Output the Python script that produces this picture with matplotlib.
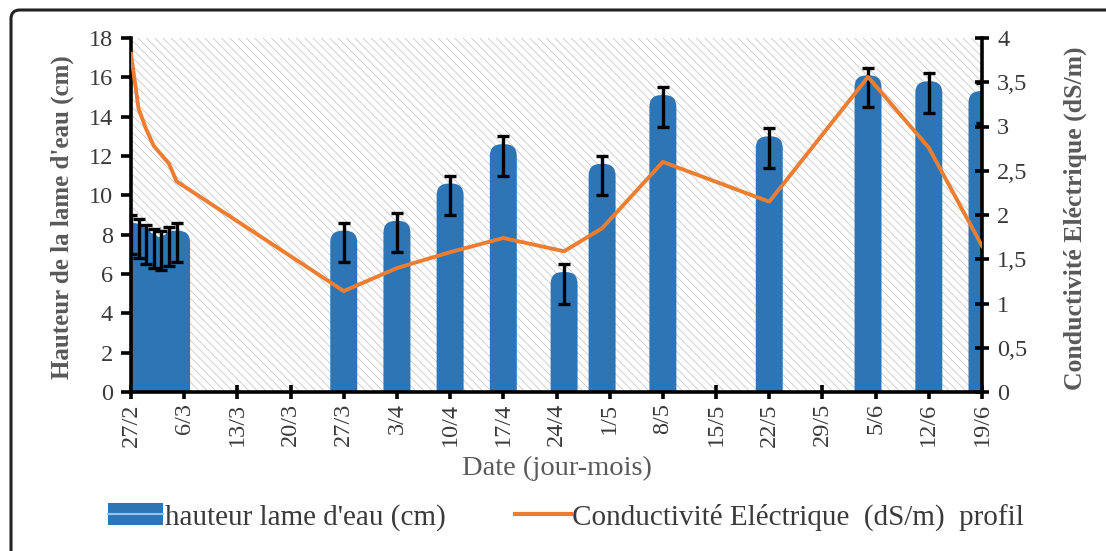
import numpy as np
import matplotlib
matplotlib.use('Agg')
from matplotlib import pyplot as plt
from matplotlib.patches import FancyBboxPatch, Rectangle, Patch
from matplotlib.lines import Line2D
from matplotlib.legend_handler import HandlerTuple

# days counted from 27/2
bar_days = [0, 1, 2, 3, 4, 5, 6, 28, 35, 42, 49, 57, 62, 70, 84, 97, 105, 112]
water_height = [8.0, 7.8, 7.5, 7.3, 7.2, 7.4, 7.6, 7.6, 8.1, 10.0, 12.0, 5.5, 11.0, 14.5, 12.4, 15.5, 15.2, 14.7]
water_err = [1.0, 1.0, 1.0, 1.0, 1.0, 1.0, 1.0, 1.0, 1.0, 1.0, 1.0, 1.0, 1.0, 1.0, 1.0, 1.0, 1.0, 1.0]

ce_days = [0, 1, 2, 3, 4, 5, 6, 28, 35, 42, 49, 57, 62, 70, 84, 97, 105, 112]
ce_values = [3.82, 3.20, 2.97, 2.78, 2.68, 2.58, 2.38, 1.14, 1.40, 1.58, 1.74, 1.59, 1.85, 2.60, 2.15, 3.56, 2.76, 1.65]

tick_days = list(range(0, 113, 7))
tick_labels = ['27/2', '6/3', '13/3', '20/3', '27/3', '3/4', '10/4', '17/4', '24/4',
               '1/5', '8/5', '15/5', '22/5', '29/5', '5/6', '12/6', '19/6']
ce_ticks = [0, 0.5, 1, 1.5, 2, 2.5, 3, 3.5, 4]
ce_ticklabels = ['0', '0,5', '1', '1,5', '2', '2,5', '3', '3,5', '4']

blue = '#2e75b6'
orange = '#ed7d31'
grey_txt = '#595959'
tick_txt = '#3a3a3a'

plt.rcParams['font.family'] = ['Liberation Serif', 'DejaVu Serif']
plt.rcParams['hatch.linewidth'] = 0.55

W, H = 1106, 551
fig = plt.figure(figsize=(W/100, H/100), dpi=100)
ax = fig.add_axes([131/W, 1-392/H, (982-131)/W, (392-38)/H])
ax.set_xlim(0, 112)
ax.set_ylim(0, 18)

# hatched plot area
ax.add_patch(Rectangle((0, 0), 1, 1, transform=ax.transAxes, facecolor='white',
                       edgecolor='#c4c4c4', hatch='\\\\\\\\', linewidth=0, zorder=0))

# bars with rounded tops
bw = 0.45
pad = 1.55
bars = ax.bar(bar_days, water_height, width=bw, color=blue, zorder=2)
ax_w = (982-131)
ax_h = (392-38)
asp = (18/ax_h) / (112/ax_w)
for r in bars.patches:
    x, y = r.get_x(), r.get_y()
    fb = FancyBboxPatch((x, y), r.get_width(), r.get_height(),
                        boxstyle=f'round,pad={pad},rounding_size={pad}',
                        mutation_aspect=asp, facecolor=blue, edgecolor='none', zorder=2)
    ax.add_patch(fb)
    r.remove()

ax.errorbar(bar_days, water_height, yerr=water_err, fmt='none', ecolor='black',
            elinewidth=2.4, capsize=4.5, capthick=2.4, zorder=3)

ax.set_xticks(tick_days)
ax.set_xticklabels(tick_labels, rotation=90)
ax.set_yticks(range(0, 19, 2))
for s in ['top', 'right']:
    ax.spines[s].set_visible(False)
for s in ['left', 'bottom']:
    ax.spines[s].set_linewidth(2.6)
ax.tick_params(axis='y', direction='out', length=7, width=2.6, labelsize=17.5,
               labelcolor=tick_txt, pad=6)
ax.tick_params(axis='x', direction='inout', length=10, width=2.6, labelsize=17.5,
               labelcolor=tick_txt, pad=3)

ax2 = ax.twinx()
ax2.set_ylim(0, 4)
ax2.plot(ce_days, ce_values, color=orange, linewidth=2.8, zorder=4)
ax2.set_yticks(ce_ticks)
ax2.set_yticklabels(ce_ticklabels)
for s in ['top', 'left', 'bottom']:
    ax2.spines[s].set_visible(False)
ax2.spines['right'].set_linewidth(2.6)
ax2.tick_params(axis='y', direction='inout', length=10, width=2.6, labelsize=17.5,
                labelcolor=tick_txt, pad=6)

fig.text(62/W, 1-217/H, "Hauteur de la lame d'eau (cm)", rotation=90, ha='center',
         va='center', fontsize=18, fontweight='bold', color=grey_txt)
fig.text(1075/W, 1-218/H, "Conductivité Eléctrique (dS/m)", rotation=90, ha='center',
         va='center', fontsize=18.5, fontweight='bold', color=grey_txt)
fig.text(557/W, 1-468/H, 'Date (jour-mois)', ha='center', va='center',
         fontsize=20.5, color=grey_txt)

h_bar = (Patch(facecolor=blue, edgecolor='none'), Line2D([], [], color='#9dc3e6', linewidth=1.5))
h_line = Line2D([], [], color=orange, linewidth=3)
fig.legend([h_bar, h_line],
           ["hauteur lame d'eau (cm)", 'Conductivité Eléctrique  (dS/m)  profil'],
           handler_map={tuple: HandlerTuple(ndivide=1)},
           loc='center', bbox_to_anchor=(566/W, 1-517/H), ncol=2, frameon=False,
           fontsize=21, handlelength=1.9, handleheight=0.75, handletextpad=0.05,
           columnspacing=2.4, labelcolor=tick_txt)

# outer frame
frame = FancyBboxPatch((11/W, -0.1), 1.2, 1-10/H+0.1, transform=fig.transFigure,
                       boxstyle='round,pad=0,rounding_size=0.008', mutation_aspect=W/H,
                       facecolor='none', edgecolor='#222222', linewidth=2.2, clip_on=False)
fig.patches.append(frame)

fig.savefig('out.png', dpi=100)
